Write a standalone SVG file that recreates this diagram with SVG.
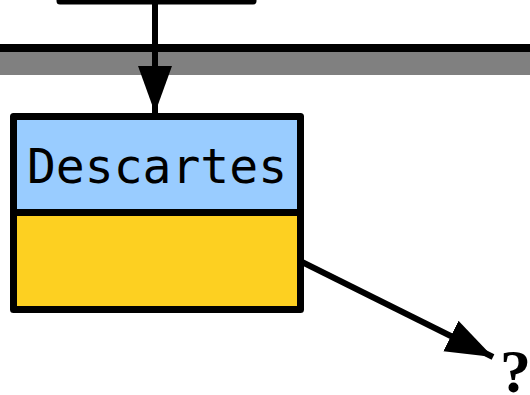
<svg xmlns="http://www.w3.org/2000/svg" width="530" height="395" viewBox="0 0 530 395">
<style>
.box{stroke:#000;stroke-width:7;stroke-linejoin:round}
.conn{stroke:#000;stroke-width:6;fill:none}
</style>
<defs>
<marker id="ah" markerUnits="userSpaceOnUse" markerWidth="50" markerHeight="40" refX="47" refY="17" orient="auto" viewBox="0 0 50 34">
<path d="M0,0 L47,17 L0,34 Z" fill="#000"/>
</marker>
</defs>
<rect x="0" y="52" width="530" height="23" fill="#808080"/>
<rect x="0" y="44" width="530" height="8" fill="#000"/>
<g id="top-node">
<rect class="box" x="60" y="-20" width="193" height="21" fill="#fff"/>
</g>
<g id="descartes">
<rect class="box" x="13.5" y="116.5" width="287" height="96" fill="#99ccff"/>
<rect class="box" x="13.5" y="212.5" width="287" height="97" fill="#fdd021"/>
<text x="157" y="183" font-family="DejaVu Sans Mono, monospace" font-size="48" text-anchor="middle">Descartes</text>
</g>
<g id="q">
<text x="500" y="392" font-family="Liberation Serif, serif" font-weight="bold" font-size="62">?</text>
</g>
<g id="connectors">
<line class="conn" x1="155" y1="2" x2="155" y2="113" marker-end="url(#ah)"/>
<line class="conn" x1="302" y1="262" x2="493" y2="357" marker-end="url(#ah)"/>
</g>
</svg>
